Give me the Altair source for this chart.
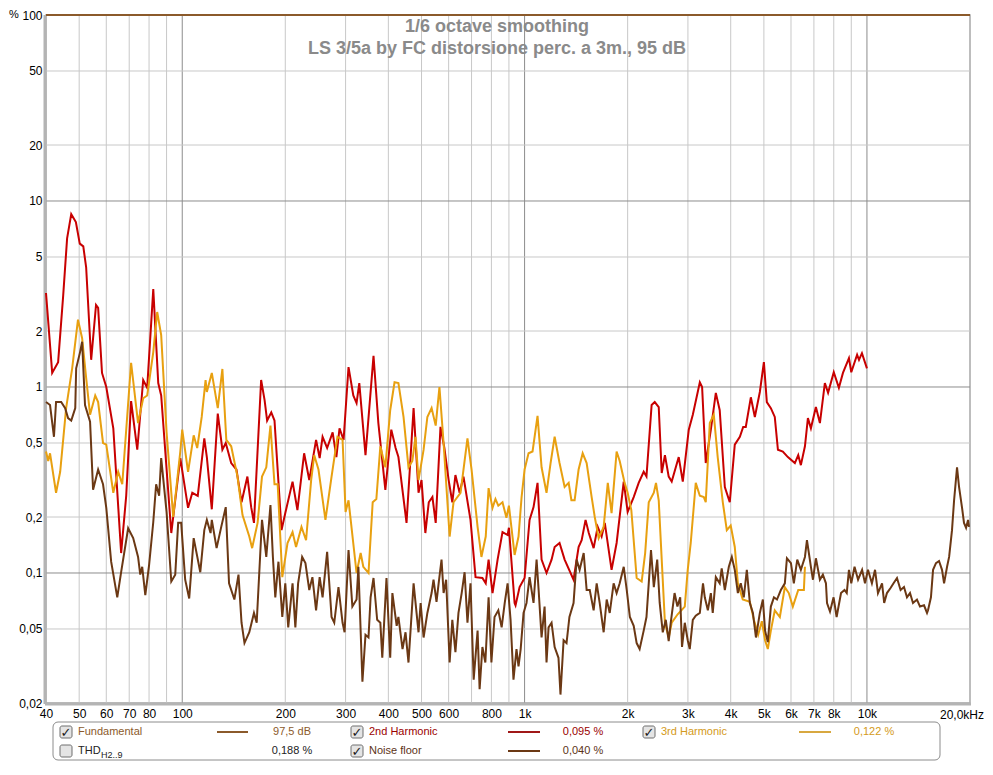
import altair as alt
import pandas as pd

# ---------------- data ----------------
# 2nd harmonic (%)
f2 = [40, 41.7, 43.4, 44.9, 46.1, 47.4, 48.9, 50.2, 51.4, 52.4, 54.2, 56.0, 56.8, 58.3, 60, 62.9, 66.3, 68.6,
      70.9, 73.9, 76.9, 79, 82.3, 85.1, 86.8, 92.9, 98.7, 104, 107, 111, 116, 118, 122, 127, 131, 134, 139, 144,
      149, 155, 159, 162, 170, 174, 177, 182, 186, 195, 200, 210, 217, 227, 235, 246, 252, 257, 265, 275, 282,
      288, 296, 306, 316, 323, 329, 343, 362, 374, 392, 408, 420, 428, 452, 474, 490, 500, 513, 525, 538, 550,
      568, 583, 600, 615, 628, 646, 663, 695, 719, 753, 770, 785, 806, 834, 862, 892, 900, 935, 941, 967, 1000,
      1034, 1062, 1091, 1121, 1159, 1199, 1224, 1265, 1309, 1390, 1438, 1468, 1507, 1540, 1591, 1635, 1679,
      1715, 1795, 1857, 1948, 2000, 2083, 2154, 2228, 2270, 2350, 2400, 2465, 2515, 2570, 2636, 2690, 2820,
      2898, 3017, 3100, 3250, 3300, 3382, 3500, 3619, 3715, 3845, 3975, 4111, 4254, 4350, 4427, 4580, 4705,
      4866, 5000, 5100, 5240, 5380, 5495, 5680, 5875, 6158, 6300, 6412, 6590, 6723, 6860, 7094, 7288, 7535,
      7700, 8000, 8280, 8510, 8860, 9000, 9360, 9480, 9670, 10000]
v2 = [3.2, 1.19, 1.36, 3.1, 6.3, 8.5, 7.7, 5.9, 5.7, 4.4, 1.4, 2.76, 2.66, 1.19, 1.0, 0.60, 0.128, 0.26,
      0.84, 0.46, 1.09, 0.99, 3.36, 1.05, 0.9, 0.164, 0.415, 0.224, 0.27, 0.26, 0.53, 0.42, 0.22, 0.72, 0.46,
      0.5, 0.39, 0.36, 0.24, 0.33, 0.226, 0.186, 1.09, 0.85, 0.66, 0.73, 0.66, 0.17, 0.21, 0.31, 0.218, 0.44,
      0.316, 0.52, 0.415, 0.54, 0.47, 0.57, 0.42, 0.60, 0.52, 1.28, 0.9, 0.82, 1.05, 0.43, 1.47, 0.64, 0.28,
      0.59, 0.47, 0.42, 0.186, 0.77, 0.27, 0.316, 0.164, 0.24, 0.256, 0.186, 0.61, 0.47, 0.316, 0.24, 0.336,
      0.27, 0.33, 0.193, 0.095, 0.094, 0.088, 0.118, 0.078, 0.118, 0.166, 0.16, 0.175, 0.069, 0.067, 0.084,
      0.094, 0.193, 0.226, 0.305, 0.118, 0.1, 0.118, 0.138, 0.145, 0.118, 0.092, 0.138, 0.15, 0.193, 0.164,
      0.136, 0.177, 0.157, 0.186, 0.104, 0.145, 0.31, 0.213, 0.256, 0.305, 0.35, 0.33, 0.8, 0.83, 0.78, 0.345,
      0.43, 0.33, 0.31, 0.42, 0.31, 0.59, 0.71, 1.06, 1.0, 0.39, 0.59, 0.93, 0.75, 0.29, 0.24, 0.49, 0.54,
      0.61, 0.61, 0.88, 0.69, 0.94, 1.36, 0.83, 0.77, 0.69, 0.46, 0.45, 0.42, 0.39, 0.43, 0.38, 0.48, 0.68,
      0.60, 0.78, 0.64, 1.05, 0.93, 1.2, 0.99, 1.19, 1.43, 1.2, 1.49, 1.4, 1.52, 1.26]

# 3rd harmonic (%)
f3 = [40, 40.6, 41.1, 42.8, 44, 45.8, 47.7, 49.6, 51, 52.4, 53.8, 55.7, 56.8, 58.7, 60, 62.9, 65, 66.8, 70.9,
      74.3, 76.9, 79, 82.3, 84.5, 86.8, 90, 94.1, 98.7, 100, 104, 108, 110.6, 114, 117, 118, 122, 127, 131,
      134.5, 139, 145, 150, 157, 160, 166, 171, 176, 181, 186, 190, 196, 203, 210, 215, 223, 230, 238, 243,
      250, 262, 273, 284, 294, 300, 306, 323, 332, 338, 350, 360, 369, 379, 392, 405, 417, 428, 443, 458, 470,
      480, 490, 507, 520, 535, 550, 564, 580, 604, 620, 650, 663, 681, 700, 729, 748, 770, 785, 806, 822, 838,
      862, 885, 900, 935, 960, 980, 1000, 1027, 1055, 1091, 1121, 1159, 1191, 1224, 1265, 1309, 1345, 1370,
      1400, 1438, 1478, 1518, 1570, 1603, 1646, 1702, 1750, 1795, 1857, 1896, 1960, 2000, 2050, 2125, 2198,
      2250, 2305, 2385, 2420, 2465, 2515, 2570, 2636, 2690, 2800, 2937, 2996, 3057, 3162, 3250, 3338, 3382,
      3475, 3570, 3665, 3793, 3896, 4000, 4111, 4197, 4337, 4550, 4674, 4810, 4932, 5040, 5134, 5240, 5380,
      5567, 5757, 5911, 6075, 6300, 6543, 6590]
v3 = [0.45, 0.40, 0.44, 0.27, 0.35, 0.77, 1.26, 2.3, 1.83, 1.12, 0.71, 0.9, 0.83, 0.5, 0.49, 0.27, 0.35, 0.30,
      1.35, 0.64, 0.87, 0.9, 1.54, 2.53, 1.9, 0.57, 0.2, 0.45, 0.59, 0.35, 0.55, 0.47, 0.69, 1.09, 0.94, 1.19,
      0.77, 1.25, 0.52, 0.48, 0.33, 0.205, 0.157, 0.136, 0.186, 0.33, 0.37, 0.62, 0.30, 0.30, 0.095, 0.145,
      0.166, 0.138, 0.177, 0.15, 0.316, 0.43, 0.36, 0.193, 0.33, 0.54, 0.52, 0.213, 0.246, 0.1, 0.128, 0.108,
      0.1, 0.24, 0.25, 0.48, 0.37, 0.75, 1.06, 1.05, 0.69, 0.37, 0.40, 0.54, 0.316, 0.46, 0.69, 0.77, 0.62,
      1.0, 0.5, 0.157, 0.24, 0.27, 0.36, 0.53, 0.36, 0.177, 0.122, 0.157, 0.286, 0.224, 0.25, 0.23, 0.24,
      0.198, 0.23, 0.125, 0.157, 0.256, 0.36, 0.44, 0.45, 0.70, 0.37, 0.27, 0.39, 0.54, 0.39, 0.29, 0.305,
      0.246, 0.246, 0.36, 0.44, 0.39, 0.256, 0.2, 0.154, 0.177, 0.305, 0.21, 0.45, 0.40, 0.305, 0.27, 0.218,
      0.094, 0.09, 0.128, 0.24, 0.27, 0.305, 0.246, 0.118, 0.054, 0.045, 0.054, 0.06, 0.066, 0.104, 0.145,
      0.305, 0.26, 0.256, 0.24, 0.64, 0.71, 0.42, 0.24, 0.17, 0.18, 0.138, 0.088, 0.072, 0.070, 0.056,
      0.0465, 0.055, 0.0435, 0.039, 0.049, 0.063, 0.058, 0.084, 0.078, 0.066, 0.081, 0.081, 0.108]

# Noise floor (%)
fn = [40, 41.1, 42.2, 42.8, 44.3, 45.5, 46.4, 47.4, 48.7, 49, 50.3, 51, 52, 53.8, 54.9, 56.8, 58.7, 60, 62,
      64.6, 66.3, 69.5, 71.9, 74.3, 75.4, 76.4, 78, 80, 82.3, 83.9, 85.6, 86.8, 90, 92.9, 95.4, 97.3, 99.3,
      102, 104.8, 108, 112.9, 116, 118, 121, 122, 126, 130, 134, 137, 142, 146, 149, 152, 157, 162, 165, 170,
      171, 176, 181, 184, 187, 191, 196, 200, 204, 210, 214, 218, 224, 229, 235, 240, 246, 252, 257, 265, 273,
      278, 286, 294, 298, 306, 314, 323, 327, 336, 343, 350, 355, 362, 371, 379, 384, 395, 405, 411, 423, 428,
      440, 449, 458, 474, 490, 497, 507, 520, 535, 542, 553, 561, 572, 580, 590, 604, 615, 628, 641, 655, 668,
      681, 695, 710, 729, 739, 753, 768, 785, 800, 817, 838, 857, 875, 892, 910, 928, 947, 960, 974, 993,
      1013, 1034, 1062, 1084, 1099, 1121, 1144, 1159, 1175, 1199, 1224, 1256, 1273, 1300, 1326, 1352, 1390,
      1419, 1448, 1488, 1518, 1550, 1591, 1624, 1657, 1702, 1737, 1773, 1820, 1857, 1896, 1948, 1988, 2030,
      2083, 2125, 2168, 2228, 2270, 2305, 2340, 2385, 2440, 2481, 2533, 2585, 2636, 2672, 2742, 2795, 2848,
      2883, 2937, 2996, 3037, 3100, 3162, 3250, 3320, 3360, 3430, 3500, 3545, 3619, 3715, 3765, 3845, 3950,
      4030, 4111, 4197, 4280, 4368, 4458, 4550, 4644, 4740, 4866, 4966, 5040, 5134, 5240, 5350, 5460, 5605,
      5757, 5838, 5998, 6116, 6258, 6412, 6590, 6680, 6860, 6955, 7094, 7288, 7435, 7590, 7645, 7800, 7990,
      8155, 8400, 8600, 8730, 8860, 9000, 9200, 9420, 9680, 9870, 10070, 10340, 10560, 10770, 11070, 11230,
      11440, 11720, 11960, 12240, 12540, 12830, 13090, 13360, 13630, 14000, 14290, 14680, 14980, 15080, 15380,
      15600, 15910, 16240, 16570, 16800, 17140, 17380, 17720, 17970, 18330, 18580, 18960, 19210, 19480,
      19740, 19870]
vn = [0.83, 0.80, 0.54, 0.83, 0.83, 0.77, 0.68, 0.66, 0.77, 1.26, 1.54, 1.75, 0.80, 0.65, 0.28, 0.36, 0.30,
      0.224, 0.115, 0.074, 0.101, 0.174, 0.154, 0.122, 0.098, 0.108, 0.076, 0.11, 0.188, 0.30, 0.26, 0.415,
      0.213, 0.09, 0.098, 0.186, 0.186, 0.092, 0.073, 0.154, 0.101, 0.17, 0.193, 0.164, 0.193, 0.136, 0.177,
      0.226, 0.088, 0.072, 0.098, 0.054, 0.042, 0.048, 0.061, 0.054, 0.157, 0.193, 0.122, 0.232, 0.122, 0.074,
      0.115, 0.058, 0.088, 0.051, 0.088, 0.051, 0.088, 0.122, 0.113, 0.081, 0.095, 0.063, 0.095, 0.074, 0.13,
      0.058, 0.054, 0.084, 0.054, 0.048, 0.133, 0.066, 0.072, 0.108, 0.026, 0.0465, 0.045, 0.074, 0.094,
      0.056, 0.054, 0.035, 0.094, 0.035, 0.078, 0.052, 0.058, 0.039, 0.048, 0.033, 0.088, 0.048, 0.069,
      0.045, 0.061, 0.078, 0.092, 0.07, 0.088, 0.118, 0.078, 0.092, 0.033, 0.056, 0.0375, 0.061, 0.078,
      0.101, 0.054, 0.088, 0.0267, 0.049, 0.0237, 0.04, 0.033, 0.074, 0.033, 0.058, 0.063, 0.051, 0.069,
      0.088, 0.056, 0.0267, 0.039, 0.0315, 0.039, 0.061, 0.069, 0.095, 0.069, 0.118, 0.081, 0.045, 0.066,
      0.033, 0.051, 0.054, 0.04, 0.035, 0.0222, 0.0435, 0.042, 0.058, 0.069, 0.118, 0.104, 0.128, 0.081,
      0.081, 0.063, 0.088, 0.069, 0.048, 0.072, 0.061, 0.088, 0.078, 0.088, 0.108, 0.081, 0.058, 0.052,
      0.042, 0.039, 0.049, 0.058, 0.088, 0.133, 0.084, 0.118, 0.069, 0.048, 0.056, 0.043, 0.054, 0.078,
      0.066, 0.074, 0.04, 0.054, 0.0435, 0.039, 0.056, 0.059, 0.061, 0.088, 0.074, 0.063, 0.078, 0.061,
      0.095, 0.088, 0.106, 0.081, 0.108, 0.122, 0.104, 0.078, 0.088, 0.074, 0.104, 0.069, 0.061, 0.045,
      0.061, 0.072, 0.049, 0.0425, 0.066, 0.074, 0.072, 0.081, 0.088, 0.12, 0.113, 0.088, 0.118, 0.104,
      0.122, 0.15, 0.108, 0.092, 0.12, 0.092, 0.098, 0.088, 0.069, 0.062, 0.074, 0.058, 0.078, 0.081, 0.078,
      0.104, 0.088, 0.108, 0.092, 0.104, 0.088, 0.104, 0.088, 0.104, 0.078, 0.088, 0.069, 0.078, 0.083,
      0.088, 0.094, 0.081, 0.084, 0.074, 0.078, 0.069, 0.072, 0.066, 0.067, 0.061, 0.063, 0.074, 0.104,
      0.113, 0.116, 0.104, 0.088, 0.108, 0.122, 0.17, 0.246, 0.37, 0.29, 0.224, 0.186, 0.175, 0.193, 0.177]

fundamental_level = [100]

x_ticks = [40, 50, 60, 70, 80, 100, 200, 300, 400, 500, 600, 800, 1000, 2000, 3000, 4000, 5000, 6000,
           7000, 8000, 10000]
y_ticks = [0.02, 0.05, 0.1, 0.2, 0.5, 1, 2, 5, 10, 20, 50, 100]
x_grid_minor = [50, 60, 70, 80, 90, 200, 300, 400, 500, 600, 700, 800, 900, 2000, 3000, 4000, 5000, 6000,
                7000, 8000, 9000]
x_grid_major = [100, 1000, 10000]
y_grid_minor = [0.05, 0.2, 0.5, 2, 5, 20, 50]
y_grid_major = [0.1, 1, 10]

title_lines = ["1/6 octave smoothing", "LS 3/5a by FC distorsione perc. a 3m., 95 dB"]

# ---------------- chart ----------------
W, H = 924, 688
FONT = "Liberation Sans"
xs = alt.Scale(type="log", domain=[40, 20000], nice=False)
ys = alt.Scale(type="log", domain=[0.02, 100], nice=False)
one = pd.DataFrame({"k": [0]})

X_AX = alt.Axis(values=x_ticks, grid=False, ticks=False, domain=False, title=None,
                labelExpr="datum.value >= 1000 ? (datum.value/1000) + 'k' : toString(datum.value)",
                labelFont=FONT, labelFontSize=12, labelColor="#000",
                labelPadding=5, labelFlush=False, labelOverlap=False)
Y_AX = alt.Axis(values=y_ticks, grid=False, ticks=False, domain=False, title=None,
                labelExpr="replace(toString(datum.value), '.', ',')",
                labelFont=FONT, labelFontSize=12, labelColor="#000",
                labelPadding=4, labelFlush=False, labelOverlap=False)

RED = "#c80000"
ORANGE = "#e8a010"
BROWN = "#6b3814"
FUND = "#8b5a2b"

layers = []

# grid
layers.append(alt.Chart(pd.DataFrame({"f": x_grid_minor})).mark_rule(color="#c8c8c8", strokeWidth=1)
              .encode(x=alt.X("f:Q", scale=xs, axis=X_AX)))
layers.append(alt.Chart(pd.DataFrame({"f": x_grid_major})).mark_rule(color="#8c8c8c", strokeWidth=1)
              .encode(x=alt.X("f:Q", scale=xs, axis=X_AX)))
layers.append(alt.Chart(pd.DataFrame({"v": y_grid_minor})).mark_rule(color="#c8c8c8", strokeWidth=1)
              .encode(y=alt.Y("v:Q", scale=ys, axis=Y_AX)))
layers.append(alt.Chart(pd.DataFrame({"v": y_grid_major})).mark_rule(color="#8c8c8c", strokeWidth=1)
              .encode(y=alt.Y("v:Q", scale=ys, axis=Y_AX)))

# frame shadow (left / bottom)
layers.append(alt.Chart(one).mark_rule(color="#b4b4b4", strokeWidth=3)
              .encode(x=alt.value(-1), y=alt.value(0), y2=alt.value(H + 1)))
layers.append(alt.Chart(one).mark_rule(color="#b4b4b4", strokeWidth=3)
              .encode(x=alt.value(-1), x2=alt.value(W + 1), y=alt.value(H + 1)))


# series
def series(f, v, color):
    df = pd.DataFrame({"f": f, "v": v})
    return alt.Chart(df).mark_line(color=color, strokeWidth=2).encode(
        x=alt.X("f:Q", scale=xs, axis=X_AX), y=alt.Y("v:Q", scale=ys, axis=Y_AX), order="f:Q")


layers.append(series(f2, v2, RED))
layers.append(series(f3, v3, ORANGE))
layers.append(series(fn, vn, BROWN))

# fundamental (97.5 dB -> top of the % scale)
layers.append(alt.Chart(pd.DataFrame({"v": fundamental_level})).mark_rule(color=FUND, strokeWidth=2)
              .encode(y=alt.Y("v:Q", scale=ys, axis=Y_AX)))

# 20,0kHz end label
layers.append(alt.Chart(pd.DataFrame({"f": [20000]})).mark_text(
    text="20,0kHz", align="right", baseline="middle", dx=14, font=FONT, fontSize=12, color="#000")
    .encode(x=alt.X("f:Q", scale=xs, axis=X_AX), y=alt.value(H + 12)))


def txt(s, x, y, color="#000", size=11, align="left", weight="normal", font=FONT, baseline="middle"):
    return alt.Chart(one).mark_text(text=s, align=align, baseline=baseline, font=font, fontSize=size,
                                    fontWeight=weight, color=color).encode(x=alt.value(x), y=alt.value(y))


def hline(x1, x2, y, color):
    return alt.Chart(one).mark_rule(color=color, strokeWidth=2).encode(
        x=alt.value(x1), x2=alt.value(x2), y=alt.value(y))


def rect(x1, y1, x2, y2, fill, stroke, radius):
    return alt.Chart(one).mark_rect(fill=fill, stroke=stroke, strokeWidth=1, cornerRadius=radius).encode(
        x=alt.value(x1), x2=alt.value(x2), y=alt.value(y1), y2=alt.value(y2))


def checkbox(x, y, checked=True):
    out = [rect(x, y - 6, x + 12, y + 6, "#e4e4e4", "#6e6e6e", 2)]
    if checked:
        out.append(txt("\u2713", x + 6, y + 1, color="#1a1a1a", size=13, align="center", weight="bold",
                       font="DejaVu Sans"))
    return out


# titles
layers.append(txt(title_lines[0], 451, 17, color="#8a8a8a", size=18, align="center", weight="bold",
                  baseline="alphabetic"))
layers.append(txt(title_lines[1], 451, 39, color="#8a8a8a", size=18, align="center", weight="bold",
                  baseline="alphabetic"))
layers.append(txt("%", -37, 0, color="#000", size=11))

# legend
r1, r2 = 717, 736
layers.append(rect(7, 707, 894, 745, "#ffffff", "#8c8c8c", 5))
layers += checkbox(14, r1)
layers.append(txt("Fundamental", 32, r1, color=FUND))
layers.append(hline(171, 202, r1, FUND))
layers.append(txt("97,5 dB", 246, r1, color=FUND, align="center"))
layers += checkbox(305, r1)
layers.append(txt("2nd Harmonic", 323, r1, color="#9a0000"))
layers.append(hline(462, 494, r1, "#a01818"))
layers.append(txt("0,095 %", 537, r1, color="#9a0000", align="center"))
layers += checkbox(597, r1)
layers.append(txt("3rd Harmonic", 615, r1, color="#d49a20"))
layers.append(hline(753, 785, r1, "#d8a840"))
layers.append(txt("0,122 %", 828, r1, color="#d49a20", align="center"))

layers += checkbox(14, r2, checked=False)
layers.append(txt("THD", 32, r2, color="#222"))
layers.append(txt("H2..9", 55, r2 + 4, color="#222", size=9))
layers.append(txt("0,188 %", 246, r2, color="#222", align="center"))
layers += checkbox(305, r2)
layers.append(txt("Noise floor", 323, r2, color="#5c3317"))
layers.append(hline(462, 494, r2, BROWN))
layers.append(txt("0,040 %", 537, r2, color="#5c3317", align="center"))

chart = alt.layer(*layers).properties(
    width=W, height=H,
    autosize=alt.AutoSizeParams(type="none"),
    padding={"left": 38, "top": 7, "right": 14, "bottom": 58},
).configure_view(stroke="#a8a8a8", strokeWidth=1.5)

chart.save("out.html", embed_options={"renderer": "svg", "actions": False})
